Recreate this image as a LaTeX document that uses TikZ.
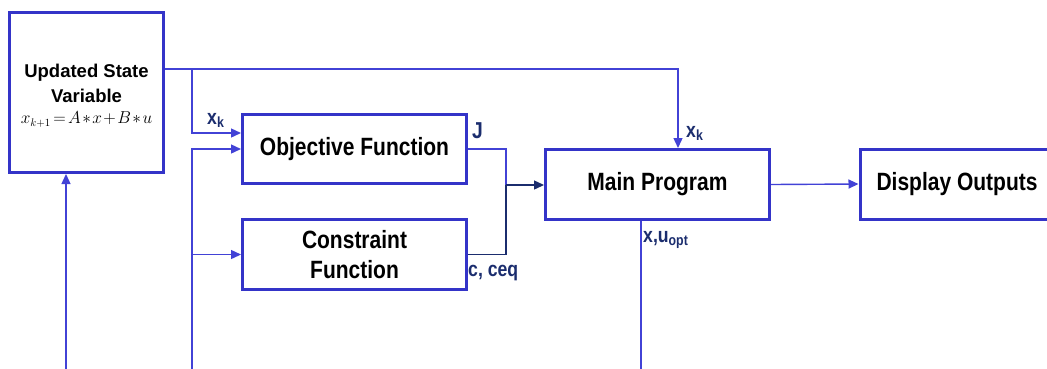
\documentclass[tikz,border=0pt]{standalone}
\usepackage{fontspec}
\setmainfont{Liberation Sans}[FakeStretch=0.84]
\newfontfamily\plainsans{Liberation Sans}
\usetikzlibrary{arrows.meta}
\definecolor{boxblue}{RGB}{52,52,200}
\definecolor{linkblue}{RGB}{66,66,214}
\definecolor{navy}{RGB}{27,45,110}
\tikzset{
  blk/.style={draw=boxblue, line width=3pt, fill=white, inner sep=0pt, align=center,
    font=\bfseries\fontsize{25}{30}\selectfont},
  conn/.style={draw=linkblue, line width=1.4pt},
  navyconn/.style={draw=navy, line width=1.4pt},
  tip/.style={-{Triangle[length=10pt,width=9pt]}},
  lbl/.style={text=navy, inner sep=0pt, anchor=base west,
    font=\bfseries\fontsize{21}{24}\selectfont}
}
\begin{document}
\begin{tikzpicture}[x=1pt,y=-1pt]
\useasboundingbox (0,0) rectangle (1047,368);
\clip (0,0) rectangle (1047,368);
% boxes
\node[blk, minimum width=154pt, minimum height=160pt] (upd) at (86.5,92.5) {};
\node[inner sep=0pt, align=center, anchor=center,
      font=\plainsans\bfseries\fontsize{18.5}{25}\selectfont] (updtxt) at (86.5,96)
  {Updated State\\
   Variable\\[-4pt]
   {\fontsize{16}{21}\selectfont\medmuskip=1.5mu\thickmuskip=2.5mu $x_{k+1} = A\ast x + B\ast u$}};
\node[blk, minimum width=224pt, minimum height=69pt] (obj) at (354.5,149) {Objective Function};
\node[blk, minimum width=224pt, minimum height=70pt] (con) at (354.5,254.5) {Constraint\\Function};
\node[blk, minimum width=224pt, minimum height=70pt] (main) at (657.5,184.5) {Main Program};
\node[blk, minimum width=194pt, minimum height=70pt] (disp) at (957,184) {Display Outputs};
% coordinates
\coordinate (b1) at (192,69);
\coordinate (tr) at (678,69);
\coordinate (b2) at (192,372);
\coordinate (b3) at (66,372);
\coordinate (b4) at (641,372);
\coordinate (m) at (506,185);
% connectors
\draw[conn, tip] (upd.east |- b1) -- (tr) -- (main.north -| tr);
\draw[conn, tip] (b1) |- ([yshift=16pt]obj.west);
\draw[conn, tip] (b2) |- (obj.west);
\draw[conn, tip] (b2 |- con.west) -- (con.west);
\draw[conn, tip] (b3) -- (b3 |- upd.south);
\draw[conn] (main.south -| b4) -- (b4);
\draw[conn] (obj.east) -| (m);
\draw[navyconn] (con.east) -| (m);
\draw[navyconn, tip] (m) -- (main.west |- m);
\draw[conn, tip] (main.east) -- (disp.west);
% labels
\node[lbl] (lxk1) at (207,124) {x\textsubscript{k}};
\node[lbl, font=\bfseries\fontsize{23}{24}\selectfont] (lj) at (472,138) {J};
\node[lbl] (lc) at (468,276) {c, ceq};
\node[lbl] (lxk2) at (686,137) {x\textsubscript{k}};
\node[lbl] (lxu) at (643,242) {x,u\textsubscript{opt}};
\end{tikzpicture}
\end{document}
